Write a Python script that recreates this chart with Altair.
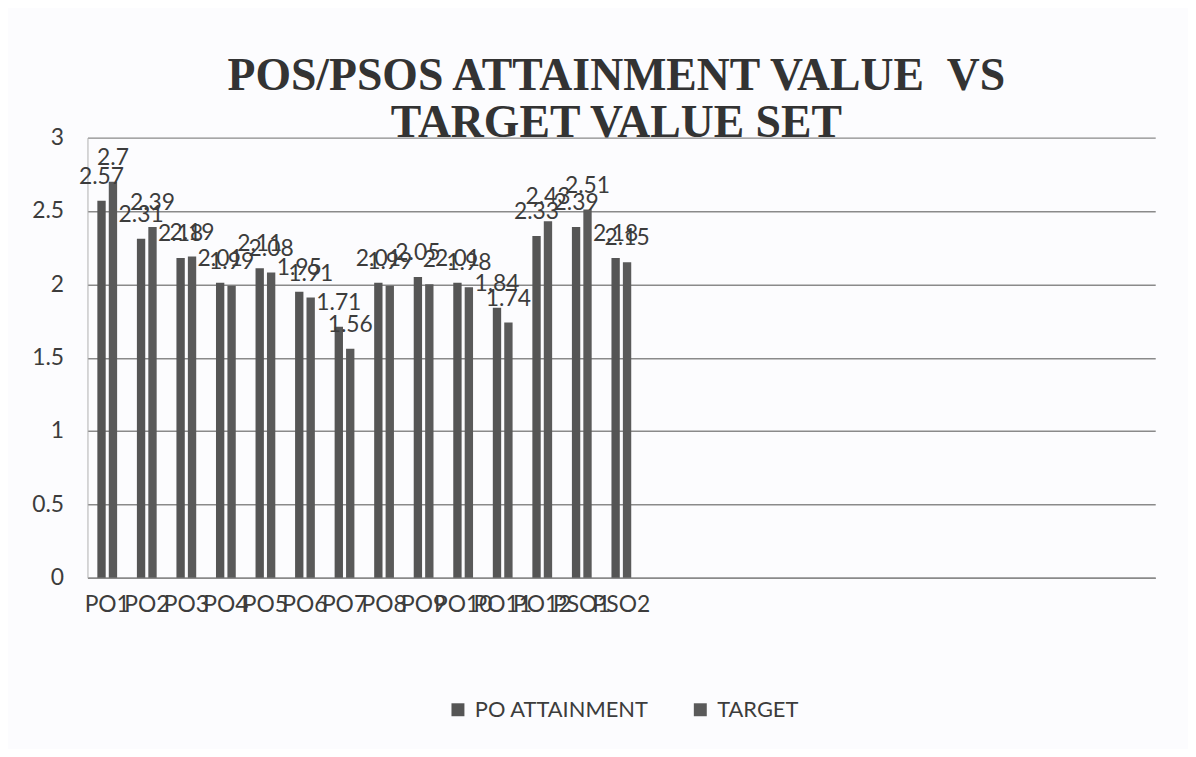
import altair as alt
import pandas as pd

categories = ["PO1", "PO2", "PO3", "PO4", "PO5", "PO6", "PO7", "PO8", "PO9",
              "PO10", "PO11", "PO12", "PSO1", "PSO2"]
attainment = [2.57, 2.31, 2.18, 2.01, 2.11, 1.95, 1.71, 2.01, 2.05, 2.01, 1.84, 2.33, 2.39, 2.18]
target = [2.70, 2.39, 2.19, 1.99, 2.08, 1.91, 1.56, 1.99, 2.00, 1.98, 1.74, 2.43, 2.51, 2.15]
series = ["PO ATTAINMENT", "TARGET"]
empty_slots = ["_%d" % i for i in range(1, 14)]

rows = []
for c, a, t in zip(categories, attainment, target):
    rows.append({"cat": c, "series": series[0], "value": a})
    rows.append({"cat": c, "series": series[1], "value": t})
df = pd.DataFrame(rows)

FONT = "Lato"
TXT = "#3c3c3c"

x_enc = alt.X("cat:N", sort=categories + empty_slots,
              scale=alt.Scale(domain=categories + empty_slots, paddingInner=0.5, paddingOuter=0.25),
              axis=alt.Axis(title=None, labelAngle=0, labelFontSize=23, labelFont=FONT,
                            labelColor=TXT, labelPadding=16, ticks=False, domainColor="#8a8a8a",
                            domainWidth=1.5, labelOverlap=False,
                            labelExpr="slice(datum.label,0,1)=='_' ? '' : datum.label"))
xo_enc = alt.XOffset("series:N", sort=series, scale=alt.Scale(paddingInner=0.27, paddingOuter=0))
y_enc = alt.Y("value:Q", scale=alt.Scale(domain=[0, 3]),
              axis=alt.Axis(title=None, values=[0, 0.5, 1, 1.5, 2, 2.5, 3], labelFontSize=23,
                            labelFont=FONT, labelColor=TXT, labelPadding=24, ticks=False,
                            domainColor="#b0b0b0", domainWidth=1, gridColor="#8a8a8a",
                            gridWidth=1.5, labelExpr="datum.value"))

base = alt.Chart(df).encode(x=x_enc, xOffset=xo_enc, y=y_enc)

bars = base.mark_bar(stroke=None).encode(
    color=alt.Color("series:N", sort=series,
                    scale=alt.Scale(domain=series, range=["#555555", "#5a5a5a"]),
                    legend=alt.Legend(title=None, orient="none", direction="horizontal",
                                      legendX=362, legendY=565, labelFontSize=22, labelFont=FONT,
                                      labelColor=TXT, symbolType="square", symbolSize=170,
                                      columnPadding=40, labelOffset=6, labelLimit=0))
)

labels = base.mark_text(baseline="alphabetic", dy=-17, fontSize=23, font=FONT, color=TXT).encode(
    text=alt.Text("value:Q", format="")
)

chart = (bars + labels).properties(
    width=1075, height=443,
    title=alt.TitleParams(["POS/PSOS ATTAINMENT VALUE \u00a0VS", "TARGET VALUE SET"],
                          font="Liberation Serif", fontSize=46, fontWeight="bold",
                          color="#333333", anchor="middle", frame="group", offset=-20,
                          lineHeight=47, dx=-5),
    padding={"left": 80, "top": 128, "right": 33, "bottom": 170},
    autosize=alt.AutoSizeParams(type="none"),
    background="#fcfcfe",
).configure_view(stroke=None)

chart.save("out.html", embed_options={"renderer": "svg", "actions": False})
